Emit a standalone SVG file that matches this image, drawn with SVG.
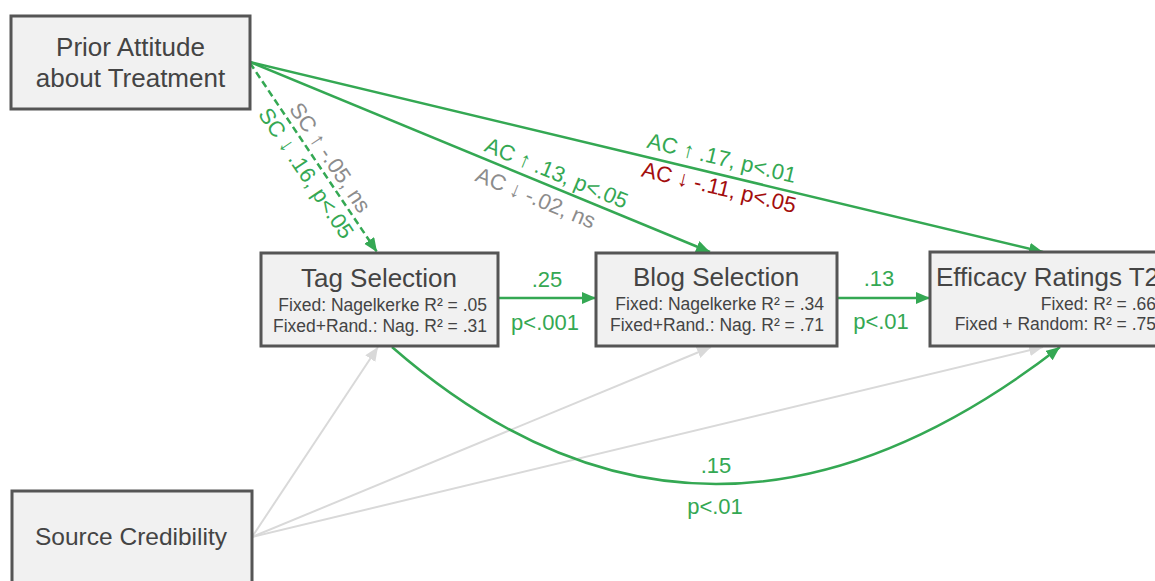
<svg xmlns="http://www.w3.org/2000/svg" width="1155" height="581" viewBox="0 0 1155 581">
  <defs>
    <style>
      .node rect { fill: #f1f1f1; stroke: #555555; stroke-width: 3; }
      .title { font-family: "Liberation Sans", Arial, "DejaVu Sans", sans-serif; font-size: 26px; fill: #444444; }
      .sub { font-family: "Liberation Sans", Arial, "DejaVu Sans", sans-serif; font-size: 17.5px; fill: #444444; text-anchor: end; }
      .lbl { font-family: "Liberation Sans", Arial, "DejaVu Sans", sans-serif; font-size: 22px; text-anchor: middle; }
      .g { fill: #34a853; }
      .gr { fill: #8c8c8c; }
      .r { fill: #a30d0d; }
      .eg { stroke: #34a853; stroke-width: 2.5; fill: none; marker-end: url(#ag); }
      .eh { stroke: #d9d9d9; stroke-width: 2; fill: none; marker-end: url(#ah); }
    </style>
    <marker id="ag" markerUnits="userSpaceOnUse" markerWidth="15" markerHeight="13" refX="14" refY="6" orient="auto">
      <path d="M0,0 L14,6 L0,12 z" fill="#34a853"/>
    </marker>
    <marker id="ah" markerUnits="userSpaceOnUse" markerWidth="15" markerHeight="13" refX="14" refY="6" orient="auto">
      <path d="M0,0 L14,6 L0,12 z" fill="#d9d9d9"/>
    </marker>
  </defs>
  <rect width="1155" height="581" fill="#ffffff"/>

  <g id="connectors">
    <line class="eh" x1="252" y1="537" x2="378" y2="347"/>
    <line class="eh" x1="252" y1="537" x2="711" y2="347"/>
    <line class="eh" x1="252" y1="537" x2="1043" y2="347"/>
    <path class="eg" d="M392,347 Q706,621 1060,347"/>
    <line class="eg" x1="250" y1="63" x2="377" y2="252" stroke-dasharray="7,4"/>
    <line class="eg" x1="250" y1="62" x2="710" y2="252"/>
    <line class="eg" x1="250" y1="62" x2="1043" y2="252"/>
    <line class="eg" x1="498" y1="298" x2="596" y2="298"/>
    <line class="eg" x1="837" y1="298" x2="930" y2="298"/>

    <text class="lbl gr" transform="translate(319,165) rotate(56.1)" y="-6">SC ↑ -.05, ns</text>
    <text class="lbl g" transform="translate(319,164.5) rotate(56.1)" y="23">SC ↓ .16, p&lt;.05</text>
    <text class="lbl g" transform="translate(551,186.4) rotate(22.44)" y="-7">AC ↑ .13, p&lt;.05</text>
    <text class="lbl gr" transform="translate(542,182.6) rotate(22.44)" y="24">AC ↓ -.02, ns</text>
    <text class="lbl g" transform="translate(718,174.1) rotate(13.47)" y="-9">AC ↑ .17, p&lt;.01</text>
    <text class="lbl r" transform="translate(722,175.2) rotate(13.47)" y="20">AC ↓ -.11, p&lt;.05</text>
    <text class="lbl g" x="547" y="287">.25</text>
    <text class="lbl g" x="545" y="330">p&lt;.001</text>
    <text class="lbl g" x="879" y="286">.13</text>
    <text class="lbl g" x="881" y="329">p&lt;.01</text>
    <text class="lbl g" x="716" y="473">.15</text>
    <text class="lbl g" x="715" y="514">p&lt;.01</text>
  </g>

  <g id="prior" class="node">
    <rect x="11" y="16" width="239" height="93"/>
    <text class="title" x="130.5" y="56" text-anchor="middle">Prior Attitude</text>
    <text class="title" x="130.5" y="87" text-anchor="middle">about Treatment</text>
  </g>

  <g id="source" class="node">
    <rect x="12" y="491" width="240" height="93"/>
    <text class="title" x="131" y="545" text-anchor="middle" style="font-size:24.5px">Source Credibility</text>
  </g>

  <g id="tag" class="node">
    <rect x="261" y="253" width="237" height="93"/>
    <text class="title" x="379" y="287" text-anchor="middle">Tag Selection</text>
    <text class="sub" x="487" y="311">Fixed: Nagelkerke R² = .05</text>
    <text class="sub" x="487" y="332">Fixed+Rand.: Nag. R² = .31</text>
  </g>

  <g id="blog" class="node">
    <rect x="596" y="253" width="241" height="93"/>
    <text class="title" x="716" y="286" text-anchor="middle">Blog Selection</text>
    <text class="sub" x="824" y="310">Fixed: Nagelkerke R² = .34</text>
    <text class="sub" x="824" y="331">Fixed+Rand.: Nag. R² = .71</text>
  </g>

  <g id="efficacy" class="node">
    <rect x="930" y="252" width="250" height="94"/>
    <text class="title" x="936" y="286">Efficacy Ratings T2</text>
    <text class="sub" x="1156" y="310">Fixed: R² = .66</text>
    <text class="sub" x="1156" y="330">Fixed + Random: R² = .75</text>
  </g>
</svg>
